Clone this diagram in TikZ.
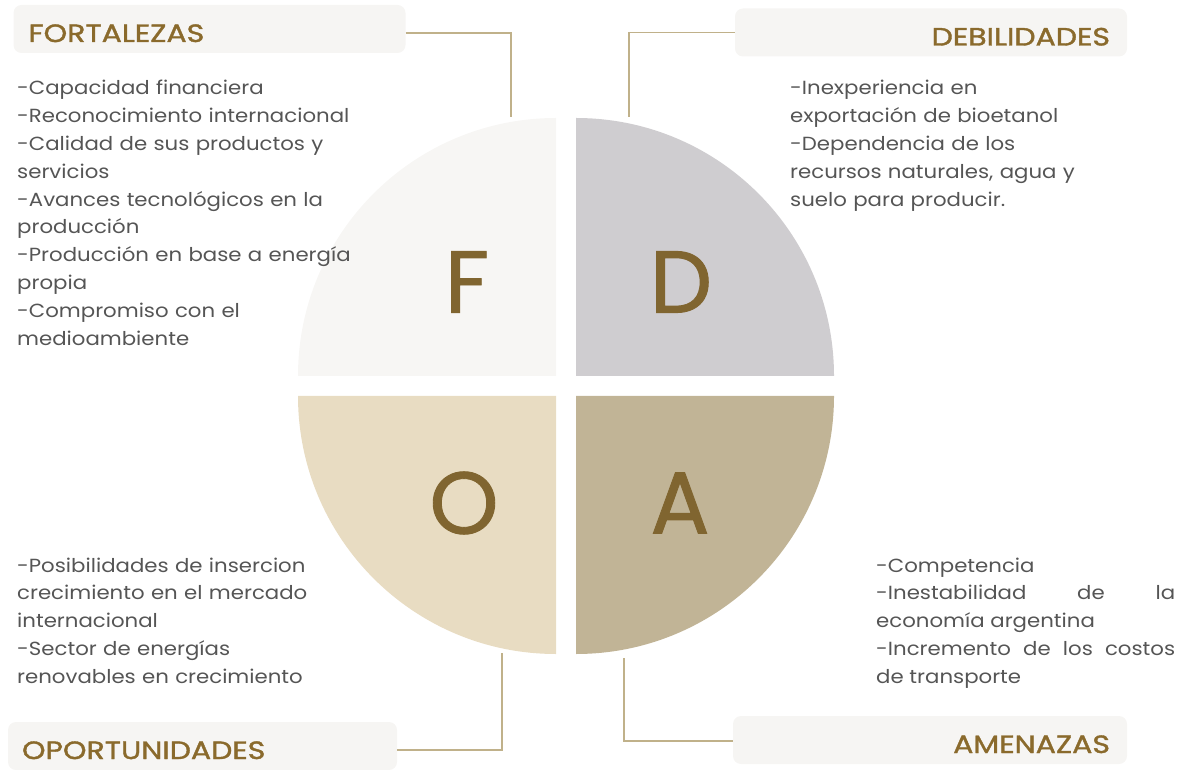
\documentclass[tikz,border=0pt]{standalone}
\usepackage{fontspec}
\setmainfont{Poppins}
\definecolor{fBg}{HTML}{F7F6F4}
\definecolor{dBg}{HTML}{CFCDD0}
\definecolor{oBg}{HTML}{E8DCC2}
\definecolor{aBg}{HTML}{C1B496}
\definecolor{letterCol}{HTML}{806530}
\definecolor{headCol}{HTML}{8A6A2C}
\definecolor{boxFill}{HTML}{F6F5F3}
\definecolor{lineCol}{HTML}{C0B18A}
\definecolor{bodyCol}{HTML}{555555}

\begin{document}
\begin{tikzpicture}[x=1pt,y=1pt]
    \tikzstyle{letter} = [text=letterCol, inner sep=0pt, font=\fontsize{88}{88}\selectfont\addfontfeature{FakeBold=1}]
    \tikzstyle{headbox} = [fill=boxFill, rounded corners=8pt, text height=26pt, text depth=0pt, inner ysep=11pt, text=headCol, font=\fontsize{25}{25}\selectfont\addfontfeature{FakeBold=1.5,FakeStretch=1.2}]
    \tikzstyle{link} = [draw=lineCol, line width=1.6pt]
    \tikzstyle{body} = [anchor=base west, inner sep=0pt, text=bodyCol, font=\fontsize{19}{27.8}\selectfont\addfontfeature{FakeStretch=1.12}]

    \useasboundingbox (0,0) rectangle (1182,769);
    \clip (0,0) rectangle (1182,769);

    % Quadrants of the circle
    \fill[fBg] (556,393) -- ++(0,258) arc[start angle=90, end angle=180, radius=258] -- cycle;
    \fill[dBg] (576,393) -- ++(258,0) arc[start angle=0, end angle=90, radius=258] -- cycle;
    \fill[oBg] (556,373) -- ++(-258,0) arc[start angle=180, end angle=270, radius=258] -- cycle;
    \fill[aBg] (576,373) -- ++(0,-258) arc[start angle=270, end angle=360, radius=258] -- cycle;

    % Letters
    \node [letter] (F) at (467,487) {F};
    \node [letter] (D) at (681,487) {D};
    \node [letter] (O) at (464,266) {O};
    \node [letter] (A) at (680,266) {A};

    % Top left heading
    \node [headbox, text width=362pt, align=left, inner xsep=15pt] (fort) at (209.5,740) {FORTALEZAS};
    \coordinate (fEnd) at (511,652);
    \draw [link] ([yshift=-4pt]fort.east) -| (fEnd);

    % Top right heading
    \node [headbox, text width=358pt, align=right, inner xsep=17pt] (deb) at (931,736.5) {DEBILIDADES};
    \coordinate (dEnd) at (629,652);
    \draw [link] (deb.west) -| (dEnd);

    % Bottom left heading
    \node [headbox, text width=361pt, align=left, inner xsep=14pt] (opo) at (202.5,23) {OPORTUNIDADES};
    \coordinate (oEnd) at (502,116);
    \draw [link] ([yshift=-4pt]opo.east) -| (oEnd);

    % Bottom right heading
    \node [headbox, text width=360pt, align=right, inner xsep=17pt] (ame) at (930,29) {AMENAZAS};
    \coordinate (aEnd) at (624,111);
    \draw [link] ([yshift=-1pt]ame.west) -| (aEnd);

    % Lists
    \node [body, text width=345pt] (fortList) at (17,674) {-Capacidad financiera\\ -Reconocimiento internacional\\ -Calidad de sus productos y\\ servicios\\ -Avances tecnológicos en la\\ producción\\ -Producción en base a energía\\ propia\\ -Compromiso con el\\ medioambiente};
    \node [body, text width=330pt] (debList) at (790,674) {-Inexperiencia en\\ exportación de bioetanol\\ -Dependencia de los\\ recursos naturales, agua y\\ suelo para producir.};
    \node [body, text width=330pt] (opoList) at (17,197) {-Posibilidades de insercion\\ crecimiento en el mercado\\ internacional\\ -Sector de energías\\ renovables en crecimiento};
    \node [body, text width=299pt, align=justify] (ameList) at (876,197) {-Competencia\\ -Inestabilidad de la\linebreak economía argentina\\ -Incremento de los costos\linebreak de transporte};
\end{tikzpicture}
\end{document}
